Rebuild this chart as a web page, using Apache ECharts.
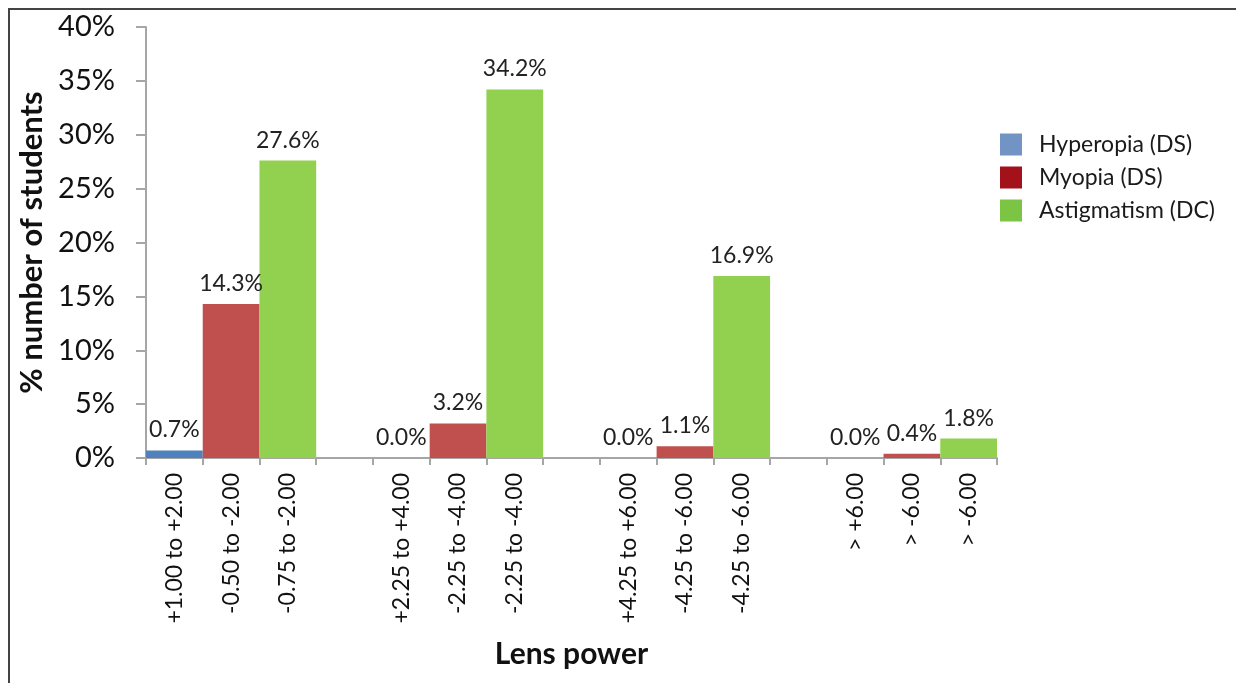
<!DOCTYPE html>
<html>
<head>
<meta charset="utf-8">
<script src="https://cdn.jsdelivr.net/npm/echarts@6/dist/echarts.min.js"></script>
<style>
html,body{margin:0;padding:0;background:#fff;}
#chart{width:1236px;height:683px;}
</style>
</head>
<body>
<div id="chart"></div>
<script>
// Data
const seriesNames = ['Hyperopia (DS)', 'Myopia (DS)', 'Astigmatism (DC)'];
const hyperopiaLabels = ['+1.00 to +2.00', '+2.25 to +4.00', '+4.25 to +6.00', '> +6.00'];
const myopiaLabels = ['-0.50 to -2.00', '-2.25 to -4.00', '-4.25 to -6.00', '> -6.00'];
const astigmatismLabels = ['-0.75 to -2.00', '-2.25 to -4.00', '-4.25 to -6.00', '> -6.00'];
const hyperopiaValues = [0.7, 0.0, 0.0, 0.0];
const myopiaValues = [14.3, 3.2, 1.1, 0.4];
const astigmatismValues = [27.6, 34.2, 16.9, 1.8];
const yTicks = [0, 5, 10, 15, 20, 25, 30, 35, 40];

// Build slot layout: 3 bars per group, one empty slot between groups
const categories = [];
const hData = [], mData = [], aData = [];
for (let g = 0; g < hyperopiaValues.length; g++) {
  categories.push(hyperopiaLabels[g]); hData.push(hyperopiaValues[g]); mData.push('-'); aData.push('-');
  categories.push(myopiaLabels[g]); hData.push('-'); mData.push(myopiaValues[g]); aData.push('-');
  categories.push(astigmatismLabels[g]); hData.push('-'); mData.push('-'); aData.push(astigmatismValues[g]);
  if (g < hyperopiaValues.length - 1) {
    categories.push(''); hData.push('-'); mData.push('-'); aData.push('-');
  }
}

const FONT = 'Lato';
const barColors = ['#4f81bd', '#c0504d', '#92d050'];
const legendColors = ['#7194c4', '#a3111a', '#7cc444'];

const chart = echarts.init(document.getElementById('chart'), null, {renderer: 'canvas'});
const labelCfg = {
  show: true,
  position: 'top',
  distance: 9,
  fontFamily: FONT,
  fontSize: 23,
  color: '#222',
  formatter: p => p.value.toFixed(1) + '%'
};
function mkSeries(i, data) {
  return {
    name: seriesNames[i],
    type: 'bar',
    data: data,
    barGap: '-100%',
    barCategoryGap: 0,
    itemStyle: {color: barColors[i]},
    label: labelCfg
  };
}
chart.setOption({
  animation: false,
  backgroundColor: '#ffffff',
  textStyle: {fontFamily: FONT},
  grid: {left: 146, right: 239, top: 27, bottom: 225, containLabel: false},
  legend: {
    orient: 'vertical',
    left: 995,
    top: 128,
    itemWidth: 22,
    itemHeight: 22,
    itemGap: 10,
    icon: 'rect',
    textStyle: {fontFamily: FONT, fontSize: 23, color: '#1a1a1a', padding: [0, 0, 0, 12]},
    data: seriesNames.map((n, i) => ({name: n, itemStyle: {color: legendColors[i]}}))
  },
  xAxis: {
    type: 'category',
    data: categories,
    name: 'Lens power',
    nameLocation: 'middle',
    nameGap: 181,
    nameTextStyle: {fontFamily: FONT, fontSize: 30, fontWeight: 'bold', color: '#111', verticalAlign: 'top'},
    axisLine: {lineStyle: {color: '#a6a6a6', width: 2}},
    axisTick: {show: true, length: 7, interval: 0, lineStyle: {color: '#a6a6a6', width: 2}},
    axisLabel: {interval: 0, rotate: 90, margin: 15, fontFamily: FONT, fontSize: 23, color: '#111'}
  },
  yAxis: {
    type: 'value',
    min: yTicks[0],
    max: yTicks[yTicks.length - 1],
    interval: yTicks[1] - yTicks[0],
    name: '% number of students',
    nameLocation: 'middle',
    nameGap: 97,
    nameRotate: 90,
    nameTextStyle: {fontFamily: FONT, fontSize: 31, fontWeight: 'bold', color: '#111'},
    splitLine: {show: false},
    axisLine: {show: true, lineStyle: {color: '#a6a6a6', width: 2}},
    axisTick: {show: true, length: 10, lineStyle: {color: '#a6a6a6', width: 2}},
    axisLabel: {margin: 31, fontFamily: FONT, fontSize: 29, color: '#111', formatter: '{value}%'}
  },
  graphic: [
    {type: 'line', shape: {x1: 8, y1: 9, x2: 1236, y2: 9}, style: {stroke: '#444', lineWidth: 2}},
    {type: 'line', shape: {x1: 9, y1: 8, x2: 9, y2: 683}, style: {stroke: '#444', lineWidth: 2}}
  ],
  series: [mkSeries(0, hData), mkSeries(1, mData), mkSeries(2, aData)]
});
</script>
</body>
</html>
